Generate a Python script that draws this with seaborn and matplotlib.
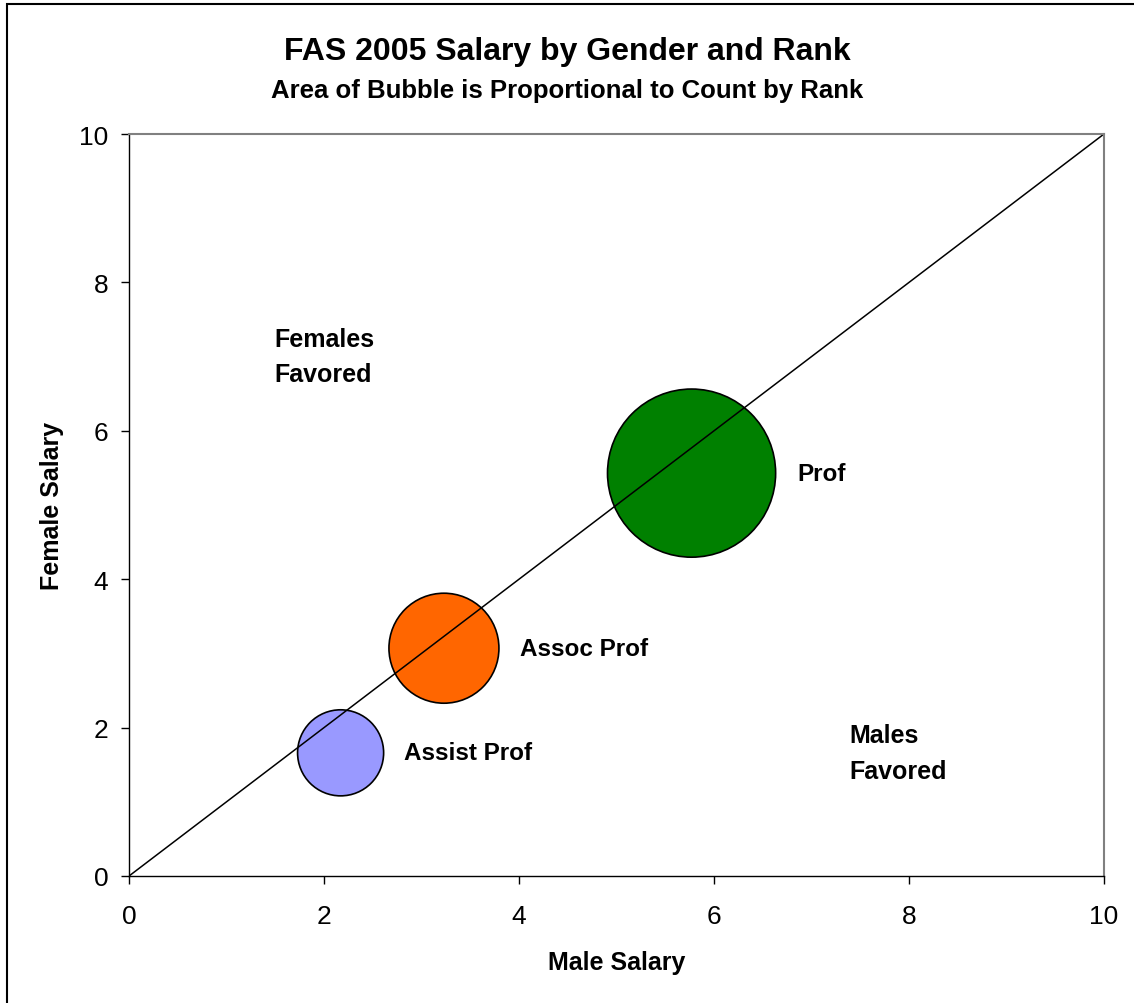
import matplotlib
matplotlib.use("Agg")
import matplotlib.pyplot as plt
import seaborn as sns
import pandas as pd
from matplotlib.patches import Rectangle

# Salary data (male vs female) by rank; bubble area proportional to headcount
ranks = ["Assist Prof", "Assoc Prof", "Prof"]
male_salary = [2.17, 3.23, 5.77]
female_salary = [1.66, 3.07, 5.43]
counts = [120, 196, 458]
colors = ["#9999FF", "#FF6600", "#008000"]
label_x = [2.82, 4.01, 6.86]

ticks = [0, 2, 4, 6, 8, 10]

sns.set_theme(style="white")
plt.rcParams["font.family"] = ["Liberation Sans", "DejaVu Sans"]
plt.rcParams["text.color"] = "black"
plt.rcParams["axes.labelcolor"] = "black"
plt.rcParams["xtick.color"] = "black"
plt.rcParams["ytick.color"] = "black"

df = pd.DataFrame({"rank": ranks, "male": male_salary, "female": female_salary,
                   "count": counts})
area_per_person = 32.0

fig = plt.figure(figsize=(11.34, 10.04), dpi=100)
ax = fig.add_axes([0.1138, 0.1265, 0.8597, 0.739])

# equality line
ax.plot([0, 10], [0, 10], color="black", lw=1.1, zorder=1)

sns.scatterplot(data=df, x="male", y="female", hue="rank",
                palette=dict(zip(ranks, colors)),
                s=[c * area_per_person for c in counts],
                edgecolor="black", linewidth=1.2, alpha=1,
                legend=False, ax=ax, zorder=0)

for name, lx, y in zip(ranks, label_x, female_salary):
    ax.text(lx, y, name, fontsize=17.5, fontweight="bold", va="center",
            ha="left", color="black")

ax.text(1.49, 7.0, "Females\nFavored", fontsize=18, fontweight="bold",
        va="center", ha="left", linespacing=1.6, color="black")
ax.text(7.39, 1.66, "Males\nFavored", fontsize=18, fontweight="bold",
        va="center", ha="left", linespacing=1.6, color="black")

ax.set_xlim(0, 10)
ax.set_ylim(0, 10)
ax.set_xticks(ticks)
ax.set_yticks(ticks)
ax.set_xticklabels([str(t) for t in ticks], fontsize=19)
ax.set_yticklabels([str(t) for t in ticks], fontsize=19)
ax.tick_params(axis="both", direction="out", length=6, width=1,
               color="black", labelcolor="black")
ax.tick_params(axis="x", bottom=True, top=False, pad=14)
ax.tick_params(axis="y", left=True, right=False, pad=9)

for side in ["left", "bottom"]:
    ax.spines[side].set_color("black")
    ax.spines[side].set_linewidth(1.0)
for side in ["top", "right"]:
    ax.spines[side].set_color("#808080")
    ax.spines[side].set_linewidth(1.5)

ax.set_xlabel("Male Salary", fontsize=18, fontweight="bold", labelpad=16,
              color="black")
ax.set_ylabel("Female Salary", fontsize=18, fontweight="bold", labelpad=11,
              color="black")

fig.text(0.5, 0.948, "FAS 2005 Salary by Gender and Rank", ha="center",
         va="center", fontsize=23, fontweight="bold", color="black")
fig.text(0.5, 0.909, "Area of Bubble is Proportional to Count by Rank",
         ha="center", va="center", fontsize=18.5, fontweight="bold",
         color="black")

# outer frame
fig.patches.append(Rectangle((7 / 1134, -0.01), 1.02, 1.0 - 5 / 1004 + 0.01,
                             transform=fig.transFigure, fill=False,
                             edgecolor="black", linewidth=1.5))

fig.savefig("out.png", dpi=100)
